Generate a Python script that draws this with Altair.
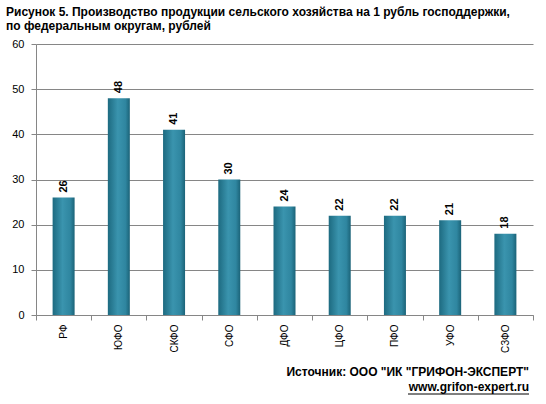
import altair as alt
import pandas as pd

districts = ["РФ", "ЮФО", "СКФО", "СФО", "ДФО", "ЦФО", "ПФО", "УФО", "СЗФО"]
values = [26, 48, 41, 30, 24, 22, 22, 21, 18]
y_ticks = [0, 10, 20, 30, 40, 50, 60]

title_lines = [
    "Рисунок 5. Производство продукции сельского хозяйства на 1 рубль господдержки,",
    "по федеральным округам, рублей",
]
source_lines = ['Источник: ООО "ИК "ГРИФОН-ЭКСПЕРТ"', "www.grifon-expert.ru"]

df = pd.DataFrame({"district": districts, "value": values})
FONT = "Liberation Sans"

x_enc = alt.X(
    "district:N",
    sort=districts,
    title=None,
    scale=alt.Scale(paddingInner=0, paddingOuter=0),
    axis=alt.Axis(
        labelAngle=270,
        labelAlign="right",
        labelBaseline="middle",
        labelFont=FONT,
        labelFontSize=10,
        labelColor="#000000",
        labelPadding=4,
        tickBand="extent",
        tickColor="#868686",
        tickSize=5,
        domainColor="#868686",
        grid=False,
    ),
)
y_enc = alt.Y(
    "value:Q",
    title=None,
    scale=alt.Scale(domain=[0, 60], nice=False),
    axis=alt.Axis(
        values=y_ticks,
        labelFont=FONT,
        labelFontSize=11,
        labelColor="#000000",
        labelPadding=7,
        tickColor="#868686",
        tickSize=5,
        domainColor="#868686",
        gridColor="#868686",
        gridWidth=1,
    ),
)

grad = alt.Gradient(
    gradient="linear",
    stops=[
        alt.GradientStop(color="#1d6a80", offset=0),
        alt.GradientStop(color="#3a94ae", offset=0.45),
        alt.GradientStop(color="#2f86a0", offset=0.8),
        alt.GradientStop(color="#1b6378", offset=1),
    ],
    x1=0, x2=1, y1=0, y2=0,
)

bars = alt.Chart(df).mark_bar(size=22, color=grad).encode(x=x_enc, y=y_enc)

labels = alt.Chart(df).mark_text(
    angle=270, align="left", baseline="middle", dx=5,
    font=FONT, fontSize=11, fontWeight="bold", color="#000000",
).encode(x=alt.X("district:N", sort=districts), y="value:Q", text="value:Q")

one = pd.DataFrame({"k": [0]})
title1 = alt.Chart(one).mark_text(
    align="left", baseline="middle", font=FONT, fontSize=12, fontWeight="bold", color="#000000"
).encode(x=alt.value(-30), y=alt.value(-32), text=alt.value(title_lines[0]))
title2 = alt.Chart(one).mark_text(
    align="left", baseline="middle", font=FONT, fontSize=12, fontWeight="bold", color="#000000"
).encode(x=alt.value(-30), y=alt.value(-18), text=alt.value(title_lines[1]))
src1 = alt.Chart(one).mark_text(
    align="right", baseline="middle", font=FONT, fontSize=12, fontWeight="bold", color="#000000"
).encode(x=alt.value(493), y=alt.value(328), text=alt.value(source_lines[0]))
src2 = alt.Chart(one).mark_text(
    align="right", baseline="middle", font=FONT, fontSize=12, fontWeight="bold", color="#000000"
).encode(x=alt.value(493), y=alt.value(343), text=alt.value(source_lines[1]))
underline = alt.Chart(one).mark_rule(color="#000000", strokeWidth=1).encode(
    x=alt.value(372), x2=alt.value(493), y=alt.value(350), y2=alt.value(350)
)

chart = (
    alt.layer(bars, labels, title1, title2, src1, src2, underline)
    .properties(
        width=497,
        height=271,
        background="#ffffff",
        autosize=alt.AutoSizeParams(type="none"),
        padding={"left": 36, "top": 44, "right": 13, "bottom": 89},
    )
    .configure_view(stroke=None)
)

chart.save("out.html", embed_options={"renderer": "svg", "actions": False})
